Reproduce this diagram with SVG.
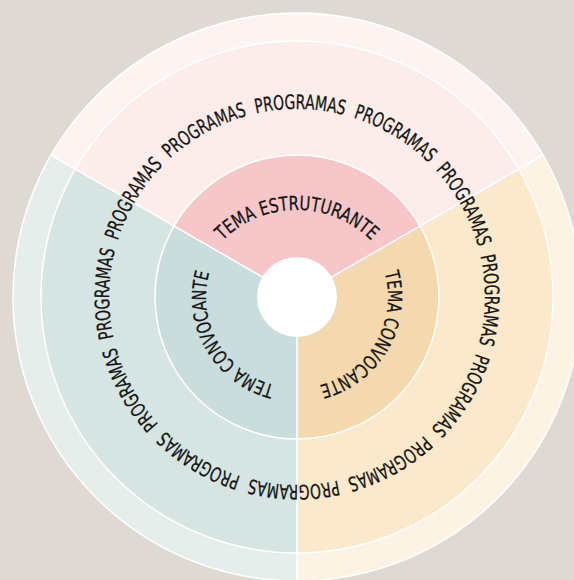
<svg xmlns="http://www.w3.org/2000/svg" xmlns:xlink="http://www.w3.org/1999/xlink" width="574" height="580" viewBox="0 0 574 580">
<style>
.lbl{font-family:"Liberation Sans Narrow","DejaVu Sans Condensed","Liberation Sans",sans-serif;font-size:19.5px;fill:#141414;stroke:#141414;stroke-width:0.25;}
.prog{font-family:"Liberation Sans Narrow","DejaVu Sans Condensed","Liberation Sans",sans-serif;font-size:20px;fill:#141414;stroke:#141414;stroke-width:0.25;}
.edge{fill:none;stroke:#ffffff;stroke-width:1.5;}
</style>
<defs>
<path id="ring" d="M251.5,114.6 A187,187 0 0 1 342.5,479.4 A187,187 0 0 1 251.5,114.6"/>
<path id="arcTop" d="M192.4,305.8 A105,105 0 0 1 401.6,305.8"/>
<path id="arcRight" d="M349.2,222.5 A91,91 0 0 1 258.5,379.5"/>
<path id="arcLeft" d="M335.5,379.5 A91,91 0 0 1 244.8,222.5"/>
</defs>
<rect x="0" y="0" width="574" height="580" fill="#dfd9d3"/>
<g id="sector-top">
<path d="M297,297 L51.05,155 A284,284 0 0 1 542.95,155 Z" fill="#fdf4f2"/>
<path d="M297,297 L75.3,169 A256,256 0 0 1 518.7,169 Z" fill="#fcedeb"/>
<path d="M297,297 L174.03,226 A142,142 0 0 1 419.97,226 Z" fill="#f6c6c8"/>
<text class="lbl"><textPath xlink:href="#arcTop" href="#arcTop" startOffset="50%" text-anchor="middle" textLength="165" lengthAdjust="spacingAndGlyphs">TEMA ESTRUTURANTE</textPath></text>
</g>
<g id="sector-right">
<path d="M297,297 L542.95,155 A284,284 0 0 1 297,581 Z" fill="#fcf3e4"/>
<path d="M297,297 L518.7,169 A256,256 0 0 1 297,553 Z" fill="#fbe9cb"/>
<path d="M297,297 L419.97,226 A142,142 0 0 1 297,439 Z" fill="#f4d9ae"/>
<text class="lbl"><textPath xlink:href="#arcRight" href="#arcRight" startOffset="50%" text-anchor="middle" textLength="145" lengthAdjust="spacingAndGlyphs">TEMA CONVOCANTE</textPath></text>
</g>
<g id="sector-left">
<path d="M297,297 L297,581 A284,284 0 0 1 51.05,155 Z" fill="#e6eeeb"/>
<path d="M297,297 L297,553 A256,256 0 0 1 75.3,169 Z" fill="#d6e5e2"/>
<path d="M297,297 L297,439 A142,142 0 0 1 174.03,226 Z" fill="#c9dddc"/>
<text class="lbl"><textPath xlink:href="#arcLeft" href="#arcLeft" startOffset="50%" text-anchor="middle" textLength="145" lengthAdjust="spacingAndGlyphs">TEMA CONVOCANTE</textPath></text>
</g>
<g id="rings">
<circle class="edge" cx="297" cy="297" r="284"/>
<circle class="edge" cx="297" cy="297" r="256"/>
<circle class="edge" cx="297" cy="297" r="142"/>
</g>
<g id="connectors">
<line class="edge" x1="297" y1="297" x2="51.05" y2="155"/>
<line class="edge" x1="297" y1="297" x2="542.95" y2="155"/>
<line class="edge" x1="297" y1="297" x2="297" y2="581"/>
</g>
<g id="center">
<circle cx="297" cy="297" r="40" fill="#ffffff"/>
</g>
<g id="programas">
<text class="prog"><textPath href="#ring" startOffset="4.1667%" text-anchor="middle" textLength="89" lengthAdjust="spacingAndGlyphs">PROGRAMAS</textPath></text>
<text class="prog"><textPath href="#ring" startOffset="12.5%" text-anchor="middle" textLength="89" lengthAdjust="spacingAndGlyphs">PROGRAMAS</textPath></text>
<text class="prog"><textPath href="#ring" startOffset="20.8333%" text-anchor="middle" textLength="89" lengthAdjust="spacingAndGlyphs">PROGRAMAS</textPath></text>
<text class="prog"><textPath href="#ring" startOffset="29.1667%" text-anchor="middle" textLength="89" lengthAdjust="spacingAndGlyphs">PROGRAMAS</textPath></text>
<text class="prog"><textPath href="#ring" startOffset="37.5%" text-anchor="middle" textLength="89" lengthAdjust="spacingAndGlyphs">PROGRAMAS</textPath></text>
<text class="prog"><textPath href="#ring" startOffset="45.8333%" text-anchor="middle" textLength="89" lengthAdjust="spacingAndGlyphs">PROGRAMAS</textPath></text>
<text class="prog"><textPath href="#ring" startOffset="54.1667%" text-anchor="middle" textLength="89" lengthAdjust="spacingAndGlyphs">PROGRAMAS</textPath></text>
<text class="prog"><textPath href="#ring" startOffset="62.5%" text-anchor="middle" textLength="89" lengthAdjust="spacingAndGlyphs">PROGRAMAS</textPath></text>
<text class="prog"><textPath href="#ring" startOffset="70.8333%" text-anchor="middle" textLength="89" lengthAdjust="spacingAndGlyphs">PROGRAMAS</textPath></text>
<text class="prog"><textPath href="#ring" startOffset="79.1667%" text-anchor="middle" textLength="89" lengthAdjust="spacingAndGlyphs">PROGRAMAS</textPath></text>
<text class="prog"><textPath href="#ring" startOffset="87.5%" text-anchor="middle" textLength="89" lengthAdjust="spacingAndGlyphs">PROGRAMAS</textPath></text>
<text class="prog"><textPath href="#ring" startOffset="95.8333%" text-anchor="middle" textLength="89" lengthAdjust="spacingAndGlyphs">PROGRAMAS</textPath></text>
</g>
</svg>
